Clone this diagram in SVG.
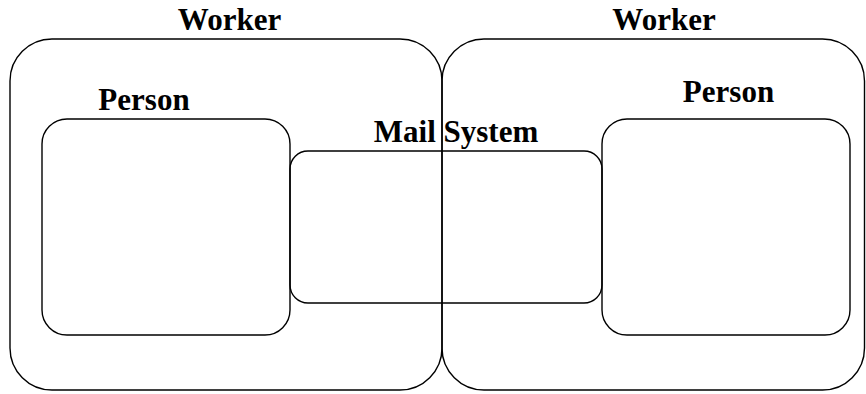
<svg xmlns="http://www.w3.org/2000/svg" width="866" height="394" viewBox="0 0 866 394">
<style>
.box{fill:none;stroke:#000;stroke-width:1.4}
.lbl{font-family:"Liberation Serif","Times New Roman",serif;font-weight:bold;font-size:31px;fill:#000;text-anchor:middle}
</style>
<rect width="866" height="394" fill="#fff"/>
<g id="worker1">
<rect class="box" x="10" y="39" width="432" height="351" rx="42" ry="42"/>
<text class="lbl" x="229.5" y="30">Worker</text>
</g>
<g id="worker2">
<rect class="box" x="442" y="39" width="422.5" height="351" rx="42" ry="42"/>
<text class="lbl" x="664" y="30">Worker</text>
</g>
<g id="person1">
<rect class="box" x="42" y="119" width="248" height="216" rx="25" ry="25"/>
<text class="lbl" x="144" y="110">Person</text>
</g>
<g id="person2">
<rect class="box" x="602" y="119" width="248" height="216" rx="25" ry="25"/>
<text class="lbl" x="728.5" y="102">Person</text>
</g>
<g id="mail">
<rect class="box" x="290" y="151" width="312" height="152" rx="18" ry="18"/>
<text class="lbl" x="456" y="142">Mail System</text>
</g>
<g id="connectors"/>
</svg>
